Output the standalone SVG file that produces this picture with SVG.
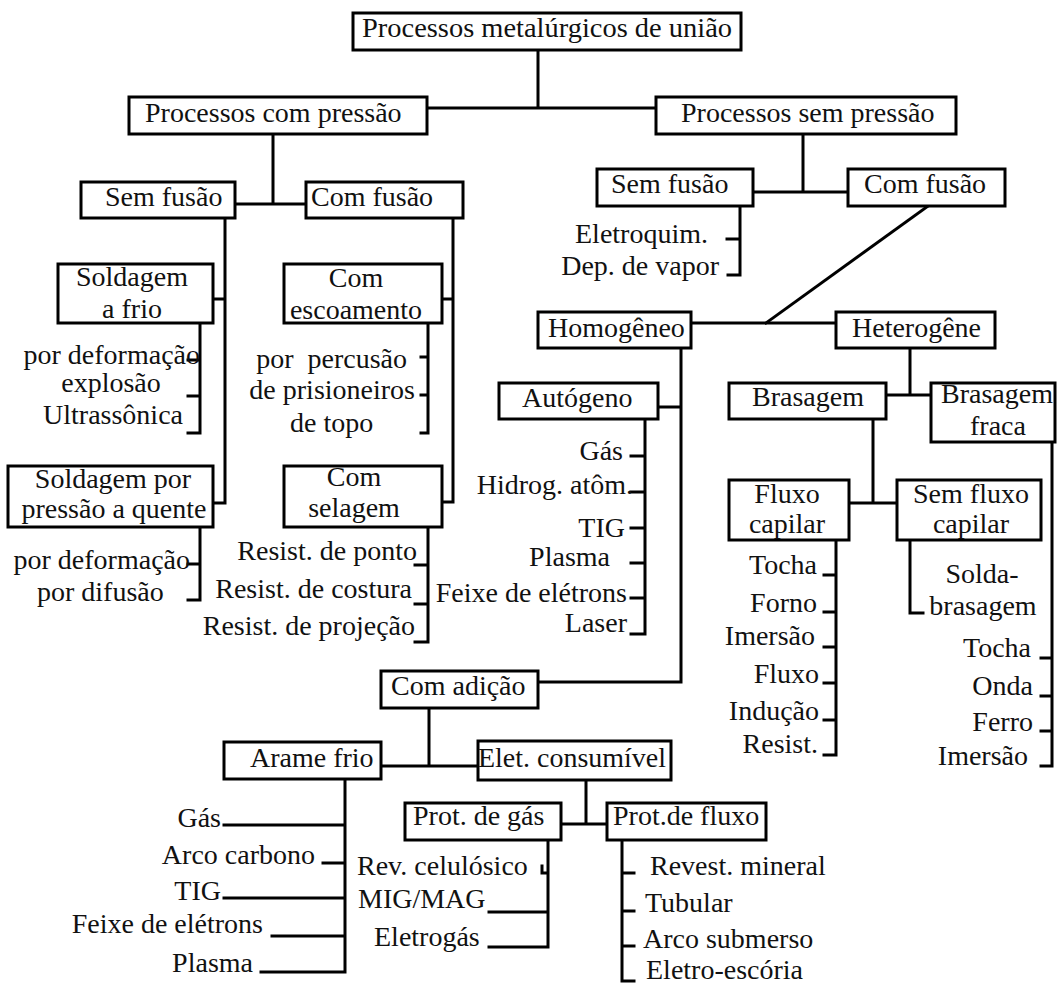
<svg xmlns="http://www.w3.org/2000/svg" width="1058" height="985" viewBox="0 0 1058 985">
<style>
.box{fill:#fff;stroke:#000;stroke-width:3}
text{font-family:"Liberation Serif","Times New Roman","DejaVu Serif",serif;font-size:28px;fill:#111}
.e{text-anchor:end}
.m{text-anchor:middle}
.c{fill:none;stroke:#000;stroke-width:3;stroke-linecap:square;stroke-linejoin:miter}
</style>
<rect width="1058" height="985" fill="#fff"/>
<g id="connectors" class="c">
<path d="M538,50V108M427,108H656"/>
<path d="M273,134V204M235,204H306"/>
<path d="M803,134V192M753,192H848"/>
<path d="M225,218V503H213M213,299H225"/>
<path d="M453,218V502H442M442,299H453"/>
<path d="M200,323V433H188M188,360H200M188,396H200"/>
<path d="M428,323V433H421M421,357H428M421,395H428"/>
<path d="M200,527V600H188M188,564H200"/>
<path d="M428,527V642H415M415,565H428M415,604H428"/>
<path d="M740,206V275H728M727,239H740"/>
<path d="M928,206L766,323"/>
<path d="M691,323H836"/>
<path d="M681,348V682H538M658,407H681"/>
<path d="M645,419V634H631M631,456H645M631,492H645M631,528H645M631,563H645M631,598H645"/>
<path d="M910,348V395M886,395H931"/>
<path d="M873,419V503M849,503H897"/>
<path d="M1052,442V766H1041M1041,658H1052M1041,696H1052M1041,731H1052"/>
<path d="M836,540V755H824M824,575H836M824,612H836M824,647H836M824,683H836M824,720H836"/>
<path d="M910,540V613H923"/>
<path d="M429,708V766M381,766H478"/>
<path d="M586,780V824M561,824H607"/>
<path d="M548,840V947H489M489,912H548M542,866V873H548"/>
<path d="M622,840V981H634M622,873H634M622,911H634M622,946H634"/>
<path d="M345,779V972H261M224,825H345M323,863H345M224,898H345M272,936H345"/>
</g>
<g id="n-root"><rect class="box" x="353" y="13" width="388" height="37"/><text x="362" y="37" textLength="370" lengthAdjust="spacingAndGlyphs">Processos metalúrgicos de união</text></g>
<g id="n-com-pressao"><rect class="box" x="129" y="97" width="298" height="37"/><text x="145" y="122">Processos com pressão</text></g>
<g id="n-sem-pressao"><rect class="box" x="656" y="97" width="300" height="37"/><text x="681" y="122">Processos sem pressão</text></g>
<g id="n-cp-sem-fusao"><rect class="box" x="81" y="182" width="154" height="36"/><text x="105" y="206">Sem fusão</text></g>
<g id="n-cp-com-fusao"><rect class="box" x="306" y="182" width="157" height="36"/><text x="311" y="206">Com fusão</text></g>
<g id="n-sp-sem-fusao"><rect class="box" x="597" y="169" width="156" height="37"/><text x="611" y="193">Sem fusão</text></g>
<g id="n-sp-com-fusao"><rect class="box" x="848" y="169" width="157" height="37"/><text x="864" y="193">Com fusão</text></g>
<g id="n-soldagem-frio"><rect class="box" x="58" y="264" width="155" height="59"/><text class="m" x="132" y="286">Soldagem</text><text class="m" x="132" y="318">a frio</text></g>
<g id="n-com-escoamento"><rect class="box" x="284" y="264" width="158" height="59"/><text class="m" x="356" y="287">Com</text><text class="m" x="356" y="319">escoamento</text></g>
<g id="n-soldagem-quente"><rect class="box" x="8" y="466" width="205" height="61"/><text class="m" x="113" y="488">Soldagem por</text><text class="m" x="114" y="518">pressão a quente</text></g>
<g id="n-com-selagem"><rect class="box" x="284" y="466" width="158" height="61"/><text class="m" x="354" y="486">Com</text><text class="m" x="354" y="517">selagem</text></g>
<g id="n-homogeneo"><rect class="box" x="538" y="312" width="153" height="36"/><text x="548" y="337">Homogêneo</text></g>
<g id="n-heterogene"><rect class="box" x="836" y="312" width="159" height="36"/><text x="852" y="337">Heterogêne</text></g>
<g id="n-autogeno"><rect class="box" x="499" y="383" width="159" height="36"/><text x="522" y="407">Autógeno</text></g>
<g id="n-brasagem"><rect class="box" x="729" y="383" width="157" height="36"/><text x="752" y="406">Brasagem</text></g>
<g id="n-brasagem-fraca"><rect class="box" x="931" y="383" width="124" height="59"/><text class="m" x="997" y="403">Brasagem</text><text class="m" x="998" y="435">fraca</text></g>
<g id="n-fluxo-capilar"><rect class="box" x="729" y="480" width="120" height="60"/><text class="m" x="787" y="503">Fluxo</text><text class="m" x="787" y="533">capilar</text></g>
<g id="n-sem-fluxo-capilar"><rect class="box" x="897" y="480" width="144" height="60"/><text class="m" x="971" y="503">Sem fluxo</text><text class="m" x="971" y="533">capilar</text></g>
<g id="n-com-adicao"><rect class="box" x="381" y="671" width="157" height="37"/><text x="391" y="695">Com adição</text></g>
<g id="n-arame-frio"><rect class="box" x="224" y="742" width="157" height="37"/><text x="250" y="767">Arame frio</text></g>
<g id="n-elet-consumivel"><rect class="box" x="478" y="741" width="193" height="39"/><text x="478" y="767" textLength="188" lengthAdjust="spacingAndGlyphs">Elet. consumível</text></g>
<g id="n-prot-gas"><rect class="box" x="405" y="803" width="156" height="37"/><text x="413" y="825">Prot. de gás</text></g>
<g id="n-prot-fluxo"><rect class="box" x="607" y="803" width="159" height="37"/><text x="613" y="825">Prot.de fluxo</text></g>
<g id="leaves-soldagem-frio"><text class="e" x="200" y="364">por deformação</text><text class="m" x="111" y="392">explosão</text><text class="e" x="183" y="424">Ultrassônica</text></g>
<g id="leaves-com-escoamento"><text class="e" x="407" y="368" xml:space="preserve">por  percusão</text><text class="e" x="415" y="399">de prisioneiros</text><text x="290" y="432">de topo</text></g>
<g id="leaves-soldagem-quente"><text class="e" x="190" y="569">por deformação</text><text x="37" y="601">por difusão</text></g>
<g id="leaves-com-selagem"><text class="e" x="417" y="560">Resist. de ponto</text><text class="e" x="412" y="598">Resist. de costura</text><text class="e" x="415" y="635">Resist. de projeção</text></g>
<g id="leaves-sp-sem-fusao"><text class="e" x="708" y="243">Eletroquim.</text><text class="e" x="719" y="275">Dep. de vapor</text></g>
<g id="leaves-autogeno"><text class="e" x="623" y="460">Gás</text><text class="e" x="633" y="494">Hidrog. atôm.</text><text class="e" x="625" y="537">TIG</text><text class="e" x="610" y="566">Plasma</text><text class="e" x="627" y="602">Feixe de elétrons</text><text class="e" x="627" y="632">Laser</text></g>
<g id="leaves-fluxo-capilar"><text class="e" x="817" y="574">Tocha</text><text class="e" x="817" y="612">Forno</text><text class="e" x="815" y="645">Imersão</text><text class="e" x="819" y="683">Fluxo</text><text class="e" x="819" y="720">Indução</text><text class="e" x="818" y="753">Resist.</text></g>
<g id="leaves-sem-fluxo-capilar"><text class="m" x="982" y="583">Solda-</text><text class="m" x="983" y="615">brasagem</text></g>
<g id="leaves-brasagem-fraca"><text class="e" x="1031" y="657">Tocha</text><text class="e" x="1033" y="695">Onda</text><text class="e" x="1033" y="731">Ferro</text><text class="e" x="1028" y="765">Imersão</text></g>
<g id="leaves-arame-frio"><text class="e" x="221" y="827">Gás</text><text class="e" x="315" y="864">Arco carbono</text><text class="e" x="221" y="900">TIG</text><text class="e" x="263" y="933">Feixe de elétrons</text><text class="e" x="253" y="972">Plasma</text></g>
<g id="leaves-prot-gas"><text x="357" y="875">Rev. celulósico</text><text x="358" y="908">MIG/MAG</text><text x="374" y="946">Eletrogás</text></g>
<g id="leaves-prot-fluxo"><text x="650" y="875">Revest. mineral</text><text x="645" y="912">Tubular</text><text x="643" y="948">Arco submerso</text><text x="646" y="979">Eletro-escória</text></g>
</svg>
